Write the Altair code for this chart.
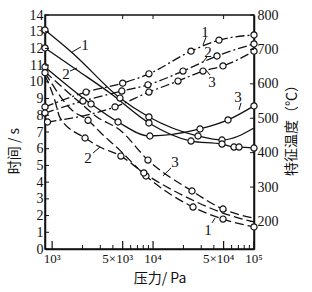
import altair as alt
import pandas as pd

# ---------------- data ----------------
P_DOMAIN = [850, 100000]     # pressure, Pa
T_DOMAIN = [0, 14]           # time, s
TEMP_DOMAIN = [120, 800]     # characteristic temperature, C

# solid curves (time, s)
s1_p = [850, 1610, 4700, 9100, 27880, 48190, 100000]
s1_t = [13.1, 11.7, 9.03, 7.90, 6.76, 6.52, 7.24]
s1_c = [1, 0, 1, 1, 1, 1, 0]

s2_p = [850, 1760, 3745, 9100, 23760, 48190, 63370, 71030, 100000]
s2_t = [12.03, 10.71, 9.33, 7.54, 6.46, 6.28, 6.10, 6.10, 6.04]
s2_c = [1, 0, 0, 1, 1, 1, 1, 1, 1]

s3_p = [850, 2430, 4500, 9300, 29180, 55270, 100000]
s3_t = [10.89, 8.68, 7.60, 6.76, 7.18, 7.72, 8.56]
s3_c = [1, 1, 1, 1, 1, 1, 1]

# dashed curves (time, s)
d1_p = [850, 1577, 2270, 2980, 4700, 8500, 24880, 49300, 100000]
d1_t = [10.55, 8.3, 7.70, 7.0, 5.9, 4.37, 2.51, 1.79, 1.32]
d1_c = [1, 0, 1, 0, 0, 1, 1, 1, 1]

d2_p = [850, 1050, 1200, 2120, 2980, 4800, 8100, 23230, 49300, 100000]
d2_t = [10.4, 9.0, 7.84, 6.64, 6.10, 5.56, 4.55, 3.0, 2.15, 1.62]
d2_c = [0, 0, 0, 1, 0, 1, 1, 0, 0, 0]

d3_p = [850, 2020, 2780, 4700, 8900, 24310, 49300, 100000]
d3_t = [10.6, 8.6, 7.9, 7.12, 5.32, 3.47, 2.39, 1.85]
d3_c = [0, 0, 0, 0, 1, 1, 1, 0]

# dash-dot curves (temperature, C)
dd1_p = [850, 2170, 5000, 9100, 23760, 45000, 100000]
dd1_T = [533, 576, 602, 629, 695, 727, 742]
dd1_c = [1, 1, 1, 1, 1, 1, 1]

dd2_p = [850, 2020, 4900, 8900, 19800, 43000, 100000]
dd2_T = [515, 550, 579, 597, 637, 681, 716]
dd2_c = [1, 1, 1, 1, 1, 1, 1]

dd3_p = [900, 4200, 9100, 17660, 31250, 49300, 100000]
dd3_T = [489, 533, 576, 608, 637, 652, 695]
dd3_c = [1, 1, 1, 1, 1, 1, 1]

# curve labels (pressure / time coordinates)
lab_txt = ["1", "2", "1", "2", "3", "3", "3", "1", "2"]
lab_p = [2117, 1373, 32690, 35010, 38360, 69410, 16500, 35010, 2267]
lab_t = [12.2, 10.47, 12.98, 11.79, 9.99, 9.09, 5.21, 1.14, 5.44]
# leader lines
lead_p1 = [1929, 1507, 33460, 34220, 36650, 74340, 15060, 38360, 2542]
lead_t1 = [12.09, 10.65, 12.68, 11.49, 10.41, 8.74, 4.85, 1.56, 5.74]
lead_p2 = [1577, 1764, 31250, 31250, 33460, 71030, 12530, 41070, 2980]
lead_t2 = [11.79, 10.83, 12.2, 11.19, 10.71, 8.32, 4.37, 1.85, 6.10]

# axis titles
x_title = "压力/ Pa"
t_title = "时间 / s"
T_title = "特征温度（℃）"

# axis ticks and tick labels
x_pow_vals = [1000, 10000, 100000]
x_pow_text = ["10³", "10⁴", "10⁵"]
x_five_vals = [5000, 50000]
x_five_text = ["5×10³", "5×10⁴"]
x_major = [1000, 5000, 10000, 50000, 100000]
x_minor = [2000, 3000, 4000, 6000, 7000, 8000, 9000,
           20000, 30000, 40000, 60000, 70000, 80000, 90000]
x_top = [5000, 10000, 50000]
t_ticks = list(range(0, 15))
temp_ticks = [200, 300, 400, 500, 600, 700, 800]

# ---------------- tables ----------------
def curve(name, style, p, v, c):
    return pd.DataFrame({"curve": name, "style": style, "p": p, "v": v, "c": c})

time_df = pd.concat([
    curve("S1", "solid", s1_p, s1_t, s1_c),
    curve("S2", "solid", s2_p, s2_t, s2_c),
    curve("S3", "solid", s3_p, s3_t, s3_c),
    curve("D1", "dash", d1_p, d1_t, d1_c),
    curve("D2", "dash", d2_p, d2_t, d2_c),
    curve("D3", "dash", d3_p, d3_t, d3_c),
], ignore_index=True)

temp_df = pd.concat([
    curve("DD1", "dashdot", dd1_p, dd1_T, dd1_c),
    curve("DD2", "dashdot", dd2_p, dd2_T, dd2_c),
    curve("DD3", "dashdot", dd3_p, dd3_T, dd3_c),
], ignore_index=True)

lab_df = pd.DataFrame({"txt": lab_txt, "p": lab_p, "v": lab_t})
lead_df = pd.DataFrame({"p": lead_p1, "v": lead_t1, "p2": lead_p2, "v2": lead_t2})

W, H = 209, 234
SERIF = "Liberation Serif"
CJK = "Noto Sans CJK SC"
INK = "#111111"
LW = 1.3

xscale = alt.Scale(type="log", domain=P_DOMAIN, nice=False)
tscale = alt.Scale(domain=T_DOMAIN, nice=False, zero=False)
Tscale = alt.Scale(domain=TEMP_DOMAIN, nice=False, zero=False)

x_axis = alt.Axis(values=x_major, labels=False, ticks=False, title=None,
                  domainColor=INK, domainWidth=1.5, grid=False)

t_axis = alt.Axis(values=t_ticks, ticks=False, labelFont=SERIF, labelFontSize=14,
                  labelColor=INK, labelPadding=2, domainColor=INK, domainWidth=1.5,
                  grid=False, title=None)

T_axis = alt.Axis(values=temp_ticks, orient="right", ticks=False, labelFont=SERIF,
                  labelFontSize=14, labelColor=INK, labelPadding=3,
                  domainColor=INK, domainWidth=1.5, grid=False, title=None)

XP = alt.X("p:Q", scale=xscale, axis=x_axis)

# ---------------- layers ----------------
solid = alt.Chart(time_df).transform_filter("datum.style == 'solid'").mark_line(
    interpolate="monotone", color=INK, strokeWidth=LW).encode(
    x=XP, y=alt.Y("v:Q", scale=tscale, axis=t_axis), detail="curve:N")

dashed = alt.Chart(time_df).transform_filter("datum.style == 'dash'").mark_line(
    interpolate="monotone", color=INK, strokeWidth=LW, strokeDash=[9, 4]).encode(
    x=XP, y=alt.Y("v:Q", scale=tscale, axis=None), detail="curve:N")

time_pts = alt.Chart(time_df).transform_filter("datum.c == 1").mark_point(
    shape="circle", filled=True, fill="white", stroke=INK, strokeWidth=1.2,
    size=38, opacity=1).encode(
    x=XP, y=alt.Y("v:Q", scale=tscale, axis=None))

labels = alt.Chart(lab_df).mark_text(font=SERIF, fontSize=15, color=INK,
                                     baseline="middle", align="center").encode(
    x=XP, y=alt.Y("v:Q", scale=tscale, axis=None), text="txt:N")

leaders = alt.Chart(lead_df).mark_rule(color=INK, strokeWidth=1).encode(
    x=XP, y=alt.Y("v:Q", scale=tscale, axis=None), x2="p2:Q", y2="v2:Q")

left_ticks = alt.Chart(pd.DataFrame({"v": t_ticks})).mark_rule(color=INK, strokeWidth=1).encode(
    y=alt.Y("v:Q", scale=tscale, axis=None), x=alt.value(0), x2=alt.value(4))

bot_major = alt.Chart(pd.DataFrame({"p": x_major})).mark_rule(color=INK, strokeWidth=1.2).encode(
    x=XP, y=alt.value(H), y2=alt.value(H - 8))

bot_minor = alt.Chart(pd.DataFrame({"p": x_minor})).mark_rule(color=INK, strokeWidth=1).encode(
    x=XP, y=alt.value(H), y2=alt.value(H - 4))

top_ticks = alt.Chart(pd.DataFrame({"p": x_top})).mark_rule(color=INK, strokeWidth=1).encode(
    x=XP, y=alt.value(0), y2=alt.value(4))

x_pow_labels = alt.Chart(pd.DataFrame({"p": x_pow_vals, "txt": x_pow_text})).mark_text(
    font=SERIF, fontSize=13, color=INK, baseline="middle", align="center").encode(
    x=XP, y=alt.value(H + 10), text="txt:N")

x_five_labels = alt.Chart(pd.DataFrame({"p": x_five_vals, "txt": x_five_text})).mark_text(
    font=SERIF, fontSize=13, color=INK, baseline="middle", align="center", dx=-5).encode(
    x=XP, y=alt.value(H + 10), text="txt:N")

# axis titles as text marks in plot-group pixel space
title_x = alt.Chart(pd.DataFrame({"txt": [x_title]})).mark_text(
    font=CJK, fontSize=14, color=INK, baseline="middle", align="center").encode(
    x=alt.value(115), y=alt.value(H + 30), text="txt:N")

title_t = alt.Chart(pd.DataFrame({"txt": [t_title]})).mark_text(
    font=CJK, fontSize=14, color=INK, baseline="middle", align="center", angle=270).encode(
    x=alt.value(-30), y=alt.value(136), text="txt:N")

title_T = alt.Chart(pd.DataFrame({"txt": [T_title]})).mark_text(
    font=CJK, fontSize=14, color=INK, baseline="middle", align="center", angle=270).encode(
    x=alt.value(W + 38), y=alt.value(112), text="txt:N")

dashdot = alt.Chart(temp_df).mark_line(
    interpolate="monotone", color=INK, strokeWidth=LW, strokeDash=[9, 3, 2, 3]).encode(
    x=XP, y=alt.Y("v:Q", scale=Tscale, axis=T_axis), detail="curve:N")

temp_pts = alt.Chart(temp_df).transform_filter("datum.c == 1").mark_point(
    shape="circle", filled=True, fill="white", stroke=INK, strokeWidth=1.2,
    size=38, opacity=1).encode(
    x=XP, y=alt.Y("v:Q", scale=Tscale, axis=None))

right_ticks = alt.Chart(pd.DataFrame({"v": temp_ticks})).mark_rule(color=INK, strokeWidth=1).encode(
    y=alt.Y("v:Q", scale=Tscale, axis=None), x=alt.value(W), x2=alt.value(W - 4))

chart = alt.layer(
    solid, dashed, dashdot, leaders, time_pts, temp_pts, labels,
    left_ticks, right_ticks, bot_major, bot_minor, top_ticks,
    x_pow_labels, x_five_labels, title_x, title_t, title_T
).resolve_scale(y="independent").properties(
    width=W, height=H,
    autosize=alt.AutoSizeParams(type="none"),
    padding={"left": 45, "top": 15, "right": 58, "bottom": 43},
    background="white",
).configure_view(stroke=INK, strokeWidth=1.5)

chart.save("out.html", embed_options={"renderer": "svg", "actions": False})
